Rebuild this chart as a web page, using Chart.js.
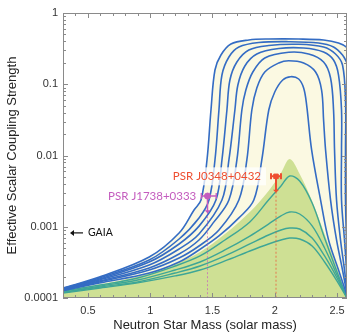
<!DOCTYPE html>
<html>
<head>
<meta charset="utf-8">
<script src="https://cdn.jsdelivr.net/npm/chart.js@4"></script>
<style>
  html, body { margin: 0; padding: 0; background: #fff; }
  #wrap { width: 352px; height: 333px; }
</style>
</head>
<body>
<div id="wrap"><canvas id="c" width="352" height="333"></canvas></div>
<script>
const yTickLabels = ['0.0001', '0.001', '0.01', '0.1', '1'];
const xTickLabels = ['0.5', '1', '1.5', '2', '2.5'];

// blue family, outermost (1) to innermost (7)
const blue1Mass  = [0.30, 0.592, 0.992, 1.232, 1.352, 1.408, 1.456, 1.488, 1.520, 1.568, 1.648, 1.792, 1.952, 2.192, 2.392, 2.512, 2.584, 2.64];
const blue1Alpha = [1.38e-4, 1.97e-4, 3.76e-4, 8.17e-4, 1.72e-3, 2.37e-3, 8.65e-3, 0.0435, 0.1585, 0.2573, 0.367, 0.418, 0.4315, 0.4315, 0.418, 0.379, 0.3226, 0.2412];
const blue2Mass  = [0.30, 0.592, 0.992, 1.232, 1.392, 1.472, 1.520, 1.552, 1.576, 1.632, 1.712, 1.872, 2.112, 2.352, 2.472, 2.544, 2.576, 2.608];
const blue2Alpha = [1.36e-4, 1.91e-4, 3.41e-4, 6.73e-4, 1.33e-3, 2.37e-3, 8.65e-3, 0.0435, 0.1348, 0.2412, 0.333, 0.385, 0.3956, 0.379, 0.333, 0.2573, 0.2052, 0.1585];
const blue3Mass  = [0.30, 0.592, 0.992, 1.232, 1.392, 1.528, 1.576, 1.616, 1.640, 1.696, 1.792, 1.952, 2.192, 2.392, 2.488, 2.544, 2.568, 2.568, 2.568, 2.576, 2.584, 2.584];
const blue3Alpha = [1.34e-4, 1.85e-4, 3.2e-4, 5.73e-4, 1.02e-3, 2.37e-3, 8.65e-3, 0.0435, 0.1147, 0.2052, 0.3025, 0.35, 0.3636, 0.333, 0.2658, 0.1863, 0.0601, 0.01195, 2.37e-3, 6.52e-4, 2.47e-4, 1.03e-4];
const blue4Mass  = [0.30, 0.592, 0.992, 1.232, 1.392, 1.576, 1.632, 1.680, 1.704, 1.760, 1.856, 2.032, 2.232, 2.392, 2.472, 2.512, 2.536, 2.536, 2.536, 2.560, 2.576, 2.584];
const blue4Alpha = [1.34e-4, 1.79e-4, 2.9e-4, 4.87e-4, 7.91e-4, 2.37e-3, 8.65e-3, 0.0435, 0.0976, 0.1804, 0.2658, 0.3175, 0.3226, 0.2836, 0.2189, 0.1348, 0.0435, 0.01195, 2.37e-3, 6.52e-4, 2.47e-4, 1.03e-4];
const blue5Mass  = [0.30, 0.592, 0.992, 1.232, 1.392, 1.512, 1.632, 1.696, 1.736, 1.768, 1.824, 1.920, 2.112, 2.272, 2.392, 2.448, 2.472, 2.480, 2.496, 2.528, 2.560, 2.584];
const blue5Alpha = [1.32e-4, 1.73e-4, 2.64e-4, 4.14e-4, 6.52e-4, 1.17e-3, 2.37e-3, 8.65e-3, 0.0435, 0.083, 0.1485, 0.2335, 0.2809, 0.2658, 0.2052, 0.1224, 0.0435, 0.01195, 2.37e-3, 6.52e-4, 2.47e-4, 1.03e-4];
const blue6Mass  = [0.30, 0.592, 0.992, 1.232, 1.392, 1.552, 1.712, 1.776, 1.816, 1.856, 1.920, 2.032, 2.112, 2.232, 2.328, 2.376, 2.392, 2.408, 2.448, 2.496, 2.544, 2.584];
const blue6Alpha = [1.30e-4, 1.68e-4, 2.47e-4, 3.64e-4, 5.37e-4, 9.0e-4, 2.37e-3, 8.65e-3, 0.0435, 0.0886, 0.1485, 0.1987, 0.214, 0.1987, 0.1485, 0.083, 0.0315, 0.01195, 2.37e-3, 6.52e-4, 2.47e-4, 1.03e-4];
const blue7Mass  = [0.30, 0.592, 0.992, 1.232, 1.392, 1.552, 1.712, 1.832, 1.896, 1.952, 2.000, 2.064, 2.128, 2.192, 2.232, 2.256, 2.296, 2.368, 2.432, 2.512, 2.584];
const blue7Alpha = [1.27e-4, 1.62e-4, 2.24e-4, 3.2e-4, 4.72e-4, 7.42e-4, 1.33e-3, 2.37e-3, 8.65e-3, 0.0435, 0.0778, 0.1147, 0.1276, 0.1185, 0.0886, 0.0511, 0.01195, 2.37e-3, 6.52e-4, 2.47e-4, 1.03e-4];

// green family: shaded envelope and four teal curves
const greenMass  = [0.30, 0.60, 0.90, 1.20, 1.40, 1.60, 1.80, 1.95, 2.05, 2.12, 2.20, 2.30, 2.40, 2.50, 2.58];
const greenEdge  = [1.26e-4, 1.56e-4, 2.0e-4, 3.0e-4, 4.42e-4, 7.9e-4, 1.61e-3, 3.18e-3, 5.68e-3, 8.93e-3, 5.5e-3, 2.3e-3, 7.91e-4, 2.63e-4, 1.0e-4];
const teal1Alpha = [1.25e-4, 1.52e-4, 1.91e-4, 2.81e-4, 3.89e-4, 6.52e-4, 1.17e-3, 2.37e-3, 3.73e-3, 5.15e-3, 4.38e-3, 2.15e-3, 6.95e-4, 2.32e-4, 1.0e-4];
const teal2Alpha = [1.21e-4, 1.47e-4, 1.79e-4, 2.47e-4, 3.2e-4, 4.72e-4, 7.41e-4, 1.09e-3, 1.42e-3, 1.61e-3, 1.51e-3, 1.03e-3, 5.04e-4, 2.1e-4, 1.0e-4];
const teal3Alpha = [1.19e-4, 1.43e-4, 1.68e-4, 2.24e-4, 2.81e-4, 3.89e-4, 5.73e-4, 7.66e-4, 9.0e-4, 9.6e-4, 9.3e-4, 6.95e-4, 3.89e-4, 1.91e-4, 1.0e-4];
const teal4Alpha = [1.17e-4, 1.38e-4, 1.63e-4, 2.04e-4, 2.47e-4, 3.31e-4, 4.57e-4, 5.73e-4, 6.52e-4, 6.95e-4, 6.73e-4, 5.37e-4, 3.2e-4, 1.73e-4, 1.0e-4];

// pulsars
const psrNames     = ['PSR J0348+0432', 'PSR J1738+0333'];
const psrMass      = [2.01, 1.46];
const psrMassErrLo = [0.04, 0.05];
const psrMassErrHi = [0.04, 0.07];
const psrAlpha     = [0.0051, 0.0027];
const psrAlphaLow  = [0.0031, 0.0016];
const psrColors    = ['rgb(238,78,48)', 'rgb(196,92,190)'];
const gaiaAlpha    = 0.00082;

const BLUE = 'rgb(52,108,196)';
const TEAL = 'rgb(62,166,150)';

const pts = (ms, as) => ms.map((m, i) => ({x: m, y: as[i]}));

const blueSets = [
  [blue1Mass, blue1Alpha], [blue2Mass, blue2Alpha], [blue3Mass, blue3Alpha], [blue4Mass, blue4Alpha],
  [blue5Mass, blue5Alpha], [blue6Mass, blue6Alpha], [blue7Mass, blue7Alpha]
].map(([m, a]) => ({
  data: pts(m, a), showLine: true, borderColor: BLUE, borderWidth: 1.6,
  pointRadius: 0, tension: 0.35, fill: false, order: 4
}));

const tealSets = [teal1Alpha, teal2Alpha, teal3Alpha, teal4Alpha].map(a => ({
  data: pts(greenMass, a), showLine: true, borderColor: TEAL, borderWidth: 1.4,
  pointRadius: 0, tension: 0.35, fill: false, order: 5
}));

const datasets = [
  // pale region under the outermost curve
  { data: pts(blue1Mass, blue1Alpha), showLine: true, borderWidth: 0, borderColor: 'rgba(0,0,0,0)',
    backgroundColor: 'rgb(251,249,226)', fill: 'start', pointRadius: 0, tension: 0.35, order: 10 },
  // green envelope
  { data: pts(greenMass, greenEdge), showLine: true, borderWidth: 0, borderColor: 'rgba(0,0,0,0)',
    backgroundColor: 'rgb(206,224,148)', fill: 'start', pointRadius: 0, tension: 0.35, order: 9 },
  ...tealSets,
  ...blueSets,
  { data: [{x: psrMass[0], y: psrAlpha[0]}], pointStyle: 'rect', pointRadius: 3.2,
    backgroundColor: psrColors[0], borderColor: psrColors[0], order: 1 },
  { data: [{x: psrMass[1], y: psrAlpha[1]}], pointStyle: 'circle', pointRadius: 3,
    backgroundColor: psrColors[1], borderColor: psrColors[1], order: 1 }
];

const decor = {
  id: 'decor',
  afterDatasetsDraw(chart) {
    const {ctx, chartArea: a, scales: {x, y}} = chart;
    ctx.save();

    // pulsar guides and error bars
    psrMass.forEach((m, i) => {
      const col = psrColors[i];
      const px = x.getPixelForValue(m);
      const py = y.getPixelForValue(psrAlpha[i]);
      const pyLow = y.getPixelForValue(psrAlphaLow[i]);
      ctx.strokeStyle = col;
      ctx.globalAlpha = 0.7;
      ctx.setLineDash([2, 2]);
      ctx.lineWidth = 1;
      ctx.beginPath(); ctx.moveTo(px, pyLow); ctx.lineTo(px, a.bottom); ctx.stroke();
      ctx.setLineDash([]);
      ctx.globalAlpha = 1;
      ctx.lineWidth = i === 0 ? 2 : 1.5;
      ctx.beginPath(); ctx.moveTo(px, py); ctx.lineTo(px, pyLow); ctx.stroke();
      ctx.fillStyle = col;
      ctx.beginPath(); ctx.moveTo(px - 3, pyLow - 2); ctx.lineTo(px + 3, pyLow - 2); ctx.lineTo(px, pyLow + 1); ctx.closePath(); ctx.fill();
      const x0 = x.getPixelForValue(m - psrMassErrLo[i]);
      const x1 = x.getPixelForValue(m + psrMassErrHi[i]);
      ctx.lineWidth = i === 0 ? 2 : 1.3;
      ctx.beginPath(); ctx.moveTo(x0, py); ctx.lineTo(x1, py);
      ctx.moveTo(x0, py - 3); ctx.lineTo(x0, py + 3);
      ctx.moveTo(x1, py - 3); ctx.lineTo(x1, py + 3);
      ctx.stroke();

      // label
      ctx.font = '11.5px Lato';
      ctx.textBaseline = 'middle';
      ctx.textAlign = 'right';
      const tx = x0 - (i === 0 ? 10 : 5);
      const w = ctx.measureText(psrNames[i]).width;
      if (i === 0) {
        ctx.fillStyle = 'rgba(255,255,255,0.75)';
        ctx.fillRect(tx - w - 7, py - 9, w + 12, 18);
      }
      ctx.fillStyle = col;
      ctx.fillText(psrNames[i], tx, py);
    });

    // GAIA arrow
    const gy = y.getPixelForValue(gaiaAlpha);
    ctx.strokeStyle = '#111'; ctx.fillStyle = '#111'; ctx.lineWidth = 1.2;
    ctx.beginPath(); ctx.moveTo(a.left + 20, gy); ctx.lineTo(a.left + 9, gy); ctx.stroke();
    ctx.beginPath(); ctx.moveTo(a.left + 7, gy); ctx.lineTo(a.left + 11, gy - 3); ctx.lineTo(a.left + 11, gy + 3); ctx.closePath(); ctx.fill();
    ctx.font = '10.5px Lato';
    ctx.textAlign = 'left';
    ctx.fillText('GAIA', a.left + 25, gy);

    // frame and inward ticks
    ctx.strokeStyle = '#8a8a8a';
    ctx.lineWidth = 1;
    ctx.strokeRect(Math.round(a.left) + 0.5, Math.round(a.top) + 0.5, Math.round(a.width) - 1, Math.round(a.height) - 1);
    ctx.beginPath();
    y.ticks.forEach(t => {
      const e = Math.log10(t.value);
      const major = Math.abs(e - Math.round(e)) < 1e-6;
      const len = major ? 5 : 3;
      const p = Math.round(y.getPixelForValue(t.value)) + 0.5;
      ctx.moveTo(a.left, p); ctx.lineTo(a.left + len, p);
      ctx.moveTo(a.right, p); ctx.lineTo(a.right - len, p);
    });
    x.ticks.forEach(t => {
      const major = Math.round(t.value * 10) % 5 === 0;
      const len = major ? 5 : 3;
      const p = Math.round(x.getPixelForValue(t.value)) + 0.5;
      ctx.moveTo(p, a.bottom); ctx.lineTo(p, a.bottom - len);
      ctx.moveTo(p, a.top); ctx.lineTo(p, a.top + len);
    });
    ctx.stroke();
    ctx.restore();
  }
};

new Chart(document.getElementById('c'), {
  type: 'scatter',
  data: { datasets },
  options: {
    responsive: false,
    animation: false,
    events: [],
    layout: { padding: { top: 13, right: 3, left: 0, bottom: 0 } },
    plugins: { legend: { display: false }, tooltip: { enabled: false } },
    scales: {
      x: {
        type: 'linear', min: 0.3, max: 2.58,
        grid: { display: false, drawTicks: false },
        border: { display: false },
        afterBuildTicks: s => {
          const t = [];
          for (let i = 3; i <= 25; i++) t.push({value: i / 10});
          s.ticks = t;
        },
        afterFit: s => { s.height = 35; },
        ticks: {
          autoSkip: false, maxRotation: 0, padding: 6, color: '#333',
          font: { family: 'Liberation Sans', size: 11 },
          callback: v => {
            const r = Math.round(v * 10);
            return r % 5 === 0 ? xTickLabels[r / 5 - 1] : '';
          }
        },
        title: { display: true, text: 'Neutron Star Mass (solar mass)', color: '#222',
          font: { family: 'Liberation Sans', size: 13 }, padding: { top: 0, bottom: 0 } }
      },
      y: {
        type: 'logarithmic', min: 0.0001, max: 1,
        grid: { display: false, drawTicks: false },
        border: { display: false },
        afterBuildTicks: s => {
          const t = [];
          for (let e = -4; e < 0; e++) for (let k = 1; k <= 9; k++) t.push({value: k * Math.pow(10, e)});
          t.push({value: 1});
          s.ticks = t;
        },
        afterFit: s => { s.width = 63; },
        ticks: {
          autoSkip: false, padding: 5, color: '#333',
          font: { family: 'Liberation Sans', size: 11 },
          callback: v => {
            const e = Math.log10(v);
            return Math.abs(e - Math.round(e)) < 1e-6 ? yTickLabels[Math.round(e) + 4] : '';
          }
        },
        title: { display: true, text: 'Effective Scalar Coupling Strength', color: '#222',
          font: { family: 'Liberation Sans', size: 13 }, padding: { top: 5, bottom: 0 } }
      }
    }
  },
  plugins: [decor]
});
</script>
</body>
</html>
